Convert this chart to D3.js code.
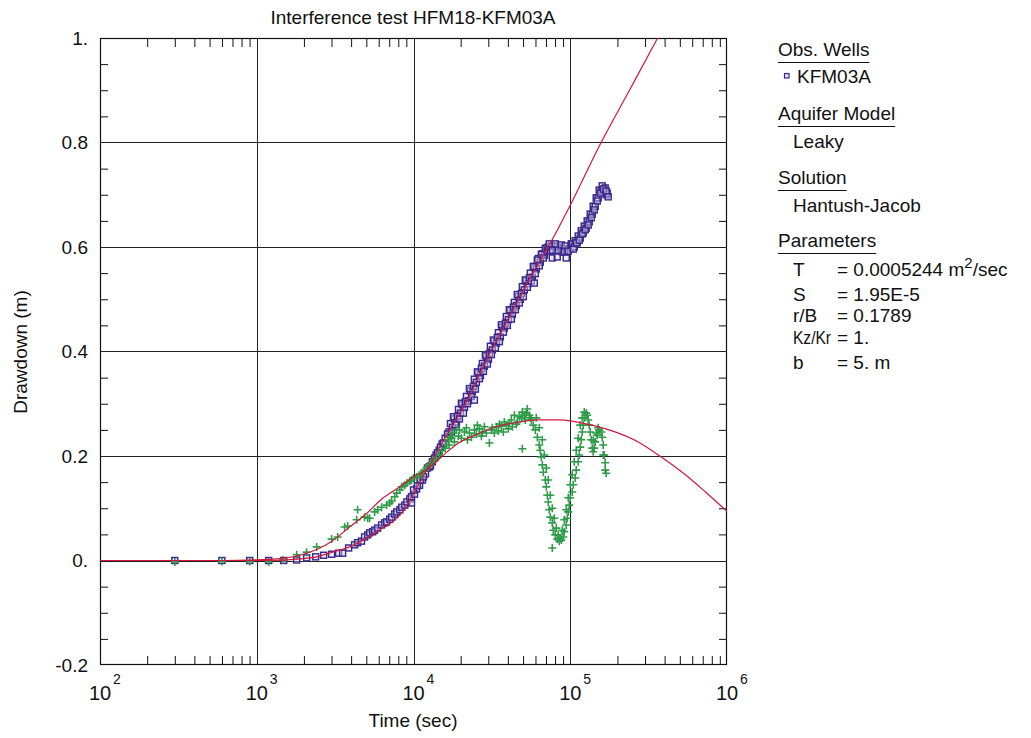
<!DOCTYPE html>
<html>
<head>
<meta charset="utf-8">
<script src="https://cdn.jsdelivr.net/npm/d3@7/dist/d3.min.js"></script>
<style>
  html, body { margin: 0; padding: 0; background: #fff; }
  svg text { font-family: "Liberation Sans", Arial, sans-serif; fill: #111; }
</style>
</head>
<body>
<svg id="chart" width="1031" height="738"></svg>
<script>
// ---------------- DATA ----------------
const chartTitle = "Interference test HFM18-KFM03A";
const xAxisTitle = "Time (sec)";
const yAxisTitle = "Drawdown (m)";
const xTickValues = [1e2, 1e3, 1e4, 1e5, 1e6];
const xTickExponents = ["2", "3", "4", "5", "6"];
const yTickValues = [-0.2, 0, 0.2, 0.4, 0.6, 0.8, 1.0];
const yTickLabels = ["-0.2", "0.", "0.2", "0.4", "0.6", "0.8", "1."];

// Observed drawdown, KFM03A (blue squares)
const timeObs = [300, 599, 902, 1191, 1486, 1798, 2081, 2376, 2672, 3004, 3329, 3530, 3856, 4209, 4400, 4660, 4875, 5100, 5250, 5490, 5650, 5900, 6260, 6550, 6740, 7050, 7260, 7590, 7820, 8180, 8420, 8800, 9070, 9480, 9710, 9710, 10150, 10460, 10930, 11410, 11930, 12610, 13200, 13950, 14580, 15230, 15930, 16840,
  10000, 10590, 11080, 11580, 12280, 12830, 13610, 14220, 14860, 15530, 16470,
  17210, 17720, 18240, 18790, 19350, 19930, 20520, 21130, 21760, 22410, 23070, 23760, 24460, 25190, 25950, 26720, 27510, 28330, 29170, 30050, 30930, 31850, 32810, 33790, 34790, 35820, 36890, 37980, 39120, 40290, 41480, 42720, 43990, 45300, 46650, 48030, 49470, 50930, 52450, 54020, 55630, 57280, 58980, 60730, 62550, 64400, 66330, 68300, 70350,
  17460, 17980, 18510, 19060, 19630, 20210, 20820, 21440, 22080, 22740, 23410, 24110, 24830, 25560, 26330, 27110, 27920, 28750, 29600, 30490, 31390, 32330, 33290, 34280, 35300, 36360, 37440, 38550, 39700, 40870, 42090, 43350, 44640, 45980, 47330, 48740, 50200, 51680, 53230, 54820, 56440, 58130, 59850, 61640, 63460, 65360, 67310, 69320, 71390,
  72430, 74600, 75700, 79100, 81500, 82600, 86400, 88900, 90250, 94300, 95700, 100000,
  73490, 76800, 80250, 83870, 87630, 91580, 92900, 97110, 101500,
  103000, 106000, 107600, 110800, 112400, 115800, 117500, 121000, 122800, 126400, 128300, 132100, 134100, 138100, 140100, 144300, 146400, 150800, 153000, 157600, 159900, 164600, 167100, 169600, 172100,
  104500, 109200, 114100, 119200, 124600, 130200, 136100, 142200, 148600, 155300, 162300, 169600, 174600,
  24460, 58980, 76800, 82600, 94300];
const drawdownObs = [0.0, 0.0, 0.0, 0.0, 0.0, 0.001, 0.005, 0.007, 0.010, 0.012, 0.014, 0.014, 0.024, 0.030, 0.034, 0.037, 0.045, 0.049, 0.053, 0.055, 0.058, 0.062, 0.068, 0.072, 0.074, 0.079, 0.083, 0.089, 0.093, 0.097, 0.102, 0.106, 0.112, 0.118, 0.122, 0.110, 0.127, 0.137, 0.144, 0.154, 0.166, 0.179, 0.189, 0.202, 0.211, 0.223, 0.234, 0.246,
  0.135, 0.143, 0.154, 0.160, 0.177, 0.181, 0.196, 0.206, 0.217, 0.225, 0.242,
  0.262, 0.255, 0.271, 0.265, 0.289, 0.282, 0.298, 0.293, 0.314, 0.306, 0.325, 0.323, 0.347, 0.341, 0.359, 0.354, 0.377, 0.372, 0.390, 0.385, 0.410, 0.403, 0.420, 0.416, 0.436, 0.428, 0.447, 0.445, 0.467, 0.461, 0.478, 0.471, 0.494, 0.488, 0.505, 0.500, 0.524, 0.518, 0.535, 0.530, 0.550, 0.542, 0.561, 0.558, 0.578, 0.571, 0.587, 0.584, 0.598,
  0.246, 0.275, 0.260, 0.276, 0.271, 0.301, 0.282, 0.304, 0.300, 0.329, 0.314, 0.333, 0.328, 0.361, 0.348, 0.368, 0.362, 0.393, 0.376, 0.396, 0.394, 0.422, 0.407, 0.427, 0.419, 0.451, 0.437, 0.454, 0.450, 0.480, 0.462, 0.485, 0.480, 0.509, 0.493, 0.511, 0.505, 0.537, 0.523, 0.541, 0.535, 0.563, 0.549, 0.575, 0.564, 0.586, 0.579, 0.597, 0.593,
  0.600, 0.592, 0.602, 0.602, 0.592, 0.600, 0.598, 0.590, 0.596, 0.596, 0.590, 0.598,
  0.606, 0.594, 0.606, 0.594, 0.604, 0.592, 0.602, 0.592, 0.606,
  0.606, 0.600, 0.612, 0.608, 0.621, 0.617, 0.631, 0.627, 0.640, 0.636, 0.650, 0.648, 0.663, 0.663, 0.678, 0.678, 0.694, 0.694, 0.709, 0.707, 0.717, 0.709, 0.713, 0.700, 0.703,
  0.596, 0.608, 0.613, 0.625, 0.633, 0.642, 0.656, 0.671, 0.688, 0.703, 0.711, 0.707, 0.696,
  0.307, 0.531, 0.579, 0.581, 0.579];

// Observed derivative (green crosses)
const timeDer = [300, 599, 902, 1191, 1464, 1798, 2081, 2411, 3004, 3281, 3636, 3802, 4339, 4400, 4875, 5100, 5250, 5650, 5900, 6260, 6740, 7050, 7260, 7590, 7820, 8180, 8420, 8800, 9070, 9480, 9710, 10000, 10460, 10930, 11240, 11760, 12100, 12610, 12980, 13580, 13950, 14580, 15230, 15930, 16230, 16710, 16840, 17210,
  17460, 17720, 18240, 18790, 19350, 19630, 20210, 21130, 21760, 22080, 22740, 23410, 24460, 25190, 25560, 26330, 27110, 27510, 28330, 29170, 30490, 31390, 31850, 32810, 33790, 34790, 35300, 36360, 37440, 37980, 39120, 40290, 40870, 42090, 42720, 43990, 45300, 45980, 47330, 48740, 49470, 49470, 50930, 51680, 52450, 53230, 54820, 55630,
  56440, 58130, 59850, 61640, 63460, 64400, 65360, 66330, 67310, 69320, 70350, 71390, 72430, 73490, 74590, 76800, 77940, 80250, 82620, 85110, 87630, 90250, 91580, 94300, 95710, 97110, 98550, 100000, 102980, 104500, 107600, 109200, 112400, 114100, 115800, 117500, 119200, 121000, 122800, 126400, 128300, 130200, 132100, 134100, 136100, 138100, 140100, 142200, 144300, 148600, 153000, 157600, 159900, 162300, 164700, 167100, 169600,
  76800, 60730, 63460, 66330, 68300, 70350, 72430, 74590, 76800, 79100, 81500, 83870, 86400, 88900, 91580, 94300, 97110, 100000, 102980, 106000, 109200, 112400, 115800, 119200, 122800, 140100, 146400, 150800, 162300, 167100];
const derivObs = [-0.003, -0.002, -0.002, -0.003, 0.001, 0.011, 0.016, 0.026, 0.041, 0.045, 0.064, 0.066, 0.078, 0.097, 0.083, 0.081, 0.081, 0.093, 0.097, 0.102, 0.106, 0.110, 0.114, 0.122, 0.129, 0.135, 0.141, 0.144, 0.148, 0.152, 0.154, 0.158, 0.160, 0.164, 0.167, 0.173, 0.177, 0.183, 0.187, 0.192, 0.196, 0.202, 0.210, 0.215, 0.221, 0.231, 0.221, 0.236,
  0.234, 0.244, 0.227, 0.250, 0.238, 0.250, 0.234, 0.246, 0.254, 0.231, 0.244, 0.236, 0.250, 0.242, 0.259, 0.252, 0.238, 0.246, 0.256, 0.244, 0.225, 0.250, 0.254, 0.244, 0.256, 0.248, 0.261, 0.257, 0.246, 0.265, 0.259, 0.252, 0.263, 0.269, 0.256, 0.278, 0.261, 0.265, 0.275, 0.273, 0.284, 0.214, 0.278, 0.269, 0.282, 0.290, 0.278, 0.273,
  0.269, 0.259, 0.250, 0.236, 0.221, 0.211, 0.198, 0.183, 0.169, 0.154, 0.141, 0.125, 0.112, 0.097, 0.083, 0.072, 0.058, 0.049, 0.041, 0.037, 0.039, 0.045, 0.055, 0.068, 0.081, 0.093, 0.106, 0.120, 0.131, 0.145, 0.158, 0.173, 0.189, 0.202, 0.217, 0.231, 0.246, 0.259, 0.273, 0.282, 0.278, 0.269, 0.259, 0.246, 0.231, 0.215, 0.208, 0.215, 0.227, 0.240, 0.250, 0.246, 0.236, 0.221, 0.202, 0.187, 0.167,
  0.024, 0.273, 0.254, 0.231, 0.202, 0.177, 0.154, 0.125, 0.100, 0.081, 0.062, 0.049, 0.043, 0.058, 0.078, 0.097, 0.120, 0.145, 0.164, 0.189, 0.211, 0.234, 0.259, 0.273, 0.284, 0.230, 0.244, 0.254, 0.202, 0.173];

// Fitted Hantush-Jacob drawdown curve (red)
const timeFit = [100, 433, 902, 1213, 1879, 2411, 3049, 3908, 5019, 6351, 8180, 9480, 10930, 13200, 15230, 18790, 22080, 29170, 36890, 47330, 60730, 73490, 100000, 153000, 237700, 358100, 494500];
const drawdownFit = [0.0, 0.0, 0.0, 0.0, 0.003, 0.007, 0.016, 0.026, 0.043, 0.062, 0.087, 0.116, 0.149, 0.192, 0.225, 0.271, 0.307, 0.384, 0.441, 0.502, 0.562, 0.604, 0.680, 0.793, 0.899, 0.998, 1.077];

// Fitted derivative curve (red)
const timeFitDer = [100, 433, 902, 1213, 1464, 1879, 2411, 3049, 3908, 5019, 6351, 8180, 10000, 12100, 13950, 16230, 19630, 25190, 33790, 45300, 61640, 85110, 132100, 177000, 274800, 369000, 548000, 735000, 1000000];
const derivFit = [0.0, 0.0, 0.001, 0.002, 0.004, 0.010, 0.021, 0.038, 0.064, 0.090, 0.119, 0.141, 0.160, 0.173, 0.189, 0.207, 0.226, 0.241, 0.256, 0.264, 0.269, 0.269, 0.260, 0.250, 0.226, 0.201, 0.163, 0.130, 0.094];

// Legend / parameter texts
const legendHeaders = ["Obs. Wells", "Aquifer Model", "Solution", "Parameters"];
const wellName = "KFM03A";
const aquiferModel = "Leaky";
const solutionName = "Hantush-Jacob";
const paramNames = ["T", "S", "r/B", "Kz/Kr", "b"];
const paramValues = ["= 0.0005244 m", "= 1.95E-5", "= 0.1789", "= 1.", "= 5. m"];

// ---------------- DRAWING ----------------
const svg = d3.select("#chart");
const L = 100, R = 727, T = 38, B = 665;
const x = d3.scaleLog().domain([1e2, 1e6]).range([L, R]);
const y = d3.scaleLinear().domain([-0.2, 1.0]).range([B, T]);

const colBlue = "#3b2a8c", colGreen = "#2e9c48", colRed = "#d3163c";

svg.append("defs").append("clipPath").attr("id", "clip")
  .append("rect").attr("x", L).attr("y", T).attr("width", R - L).attr("height", B - T);

// Gridlines
const grid = svg.append("g");
grid.selectAll("line.vx").data(xTickValues.slice(1, -1)).join("line")
  .attr("x1", d => Math.round(x(d)) + 0.5).attr("x2", d => Math.round(x(d)) + 0.5)
  .attr("y1", T).attr("y2", B).attr("stroke", "#222").attr("stroke-width", 1);
grid.selectAll("line.hy").data(yTickValues.slice(1, -1)).join("line")
  .attr("y1", d => Math.round(y(d)) + 0.5).attr("y2", d => Math.round(y(d)) + 0.5)
  .attr("x1", L).attr("x2", R).attr("stroke", "#222").attr("stroke-width", 1);

// Minor ticks (inward) via d3 axes
const minorX = [];
for (let e = 2; e < 6; e++) for (let m = 2; m <= 9; m++) minorX.push(m * Math.pow(10, e));
const minorY = d3.range(-0.15, 1.0, 0.05).filter(v => Math.abs(Math.round(v * 5) - v * 5) > 1e-6);

function styleAxis(g) { g.select(".domain").remove(); g.selectAll("line").attr("stroke", "#111"); g.selectAll("text").remove(); }
svg.append("g").attr("transform", `translate(0,${B})`)
  .call(d3.axisTop(x).tickValues(minorX).tickSize(9).tickFormat("")).call(styleAxis);
svg.append("g").attr("transform", `translate(0,${T})`)
  .call(d3.axisBottom(x).tickValues(minorX).tickSize(9).tickFormat("")).call(styleAxis);
svg.append("g").attr("transform", `translate(${L},0)`)
  .call(d3.axisRight(y).tickValues(minorY).tickSize(8).tickFormat("")).call(styleAxis);
svg.append("g").attr("transform", `translate(${R},0)`)
  .call(d3.axisLeft(y).tickValues(minorY).tickSize(8).tickFormat("")).call(styleAxis);

// Frame
svg.append("rect").attr("x", L + 0.5).attr("y", T + 0.5).attr("width", R - L - 1).attr("height", B - T - 1)
  .attr("fill", "none").attr("stroke", "#111").attr("stroke-width", 1.2);

// Y tick labels
const yAx = svg.append("g").attr("transform", `translate(${L},0)`)
  .call(d3.axisLeft(y).tickValues(yTickValues).tickSize(0).tickPadding(12)
    .tickFormat((d, i) => yTickLabels[i]));
yAx.select(".domain").remove();
yAx.selectAll("text").attr("font-size", 19).attr("font-family", "Liberation Sans, Arial, sans-serif").attr("fill", "#111");

// X tick labels with superscripts
const xl = svg.append("g");
xTickValues.forEach((v, i) => {
  xl.append("text").attr("x", x(v)).attr("y", 700).attr("text-anchor", "middle")
    .attr("font-size", 20).text("10");
  xl.append("text").attr("x", x(v) + 13).attr("y", 684).attr("font-size", 14).text(xTickExponents[i]);
});

// Titles
svg.append("text").attr("x", 413).attr("y", 24).attr("text-anchor", "middle").attr("font-size", 19).text(chartTitle);
svg.append("text").attr("x", 413).attr("y", 727).attr("text-anchor", "middle").attr("font-size", 19).text(xAxisTitle);
svg.append("text").attr("transform", "translate(27,352) rotate(-90)").attr("text-anchor", "middle").attr("font-size", 19).text(yAxisTitle);

// Data layers
const plot = svg.append("g").attr("clip-path", "url(#clip)");

const blueData = timeObs.map((t, i) => [t, drawdownObs[i]]);
plot.append("g").selectAll("rect").data(blueData).join("rect")
  .attr("x", d => x(d[0]) - 3).attr("y", d => y(d[1]) - 3).attr("width", 6).attr("height", 6)
  .attr("fill", "#d8d2ee").attr("fill-opacity", 0.45).attr("stroke", colBlue).attr("stroke-width", 1.45);

const greenData = timeDer.map((t, i) => [t, derivObs[i]]);
plot.append("g").selectAll("path").data(greenData).join("path")
  .attr("d", d => `M${x(d[0]) - 4},${y(d[1])}H${x(d[0]) + 4}M${x(d[0])},${y(d[1]) - 4}V${y(d[1]) + 4}`)
  .attr("stroke", colGreen).attr("stroke-width", 1.6).attr("fill", "none");

const line = d3.line().x(d => x(d[0])).y(d => y(d[1])).curve(d3.curveMonotoneX);
plot.append("path").datum(timeFit.map((t, i) => [t, drawdownFit[i]]))
  .attr("d", line).attr("fill", "none").attr("stroke", colRed).attr("stroke-width", 1.2);
plot.append("path").datum(timeFitDer.map((t, i) => [t, derivFit[i]]))
  .attr("d", line).attr("fill", "none").attr("stroke", colRed).attr("stroke-width", 1.2);

// Legend panel
const lg = svg.append("g").attr("font-size", 19);
const hx = 778, ix = 793, ex = 837;
const headerY = [56, 120, 184, 247];
legendHeaders.forEach((h, i) => {
  const t = lg.append("text").attr("x", hx).attr("y", headerY[i]).text(h);
  const w = t.node().getComputedTextLength();
  lg.append("line").attr("x1", hx).attr("x2", hx + w).attr("y1", headerY[i] + 6.5).attr("y2", headerY[i] + 6.5)
    .attr("stroke", "#111").attr("stroke-width", 1);
});
lg.append("rect").attr("x", 784.5).attr("y", 73.5).attr("width", 4.5).attr("height", 4.5)
  .attr("fill", "#e4e0f2").attr("stroke", colBlue).attr("stroke-width", 1.2);
lg.append("text").attr("x", 797).attr("y", 83).text(wellName);
lg.append("text").attr("x", ix).attr("y", 148).text(aquiferModel);
lg.append("text").attr("x", ix).attr("y", 212).text(solutionName);
const paramY = [276, 301, 322, 344, 369];
paramNames.forEach((p, i) => {
  const pn = lg.append("text").attr("x", ix).attr("y", paramY[i]).text(p);
  if (p === "Kz/Kr") pn.attr("textLength", 38).attr("lengthAdjust", "spacingAndGlyphs");
  const t = lg.append("text").attr("x", ex).attr("y", paramY[i]).text(paramValues[i]);
  if (i === 0) {
    t.append("tspan").attr("dy", -8).attr("font-size", 15).text("2");
    t.append("tspan").attr("dy", 8).text("/sec");
  }
});
</script>
</body>
</html>
